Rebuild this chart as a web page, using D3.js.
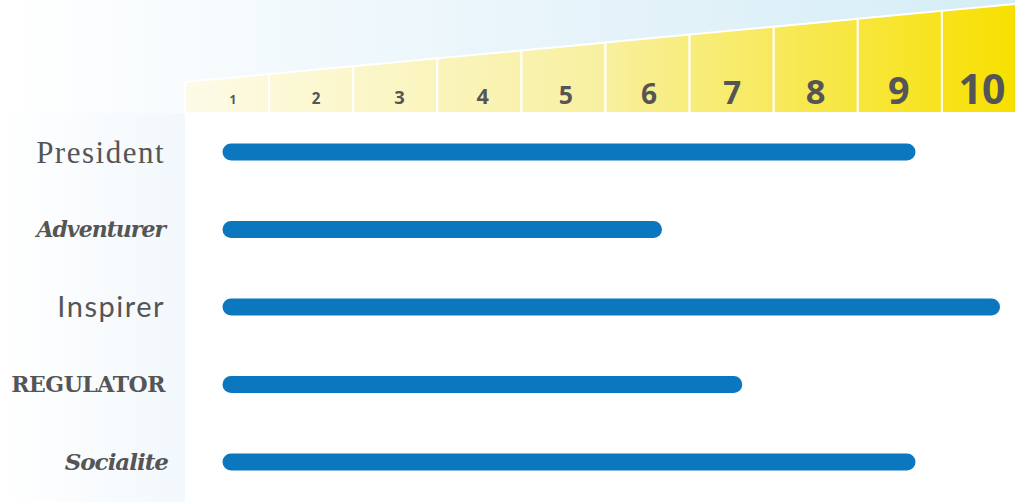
<!DOCTYPE html>
<html>
<head>
<meta charset="utf-8">
<script src="https://cdn.jsdelivr.net/npm/d3@7"></script>
<style>
  html, body { margin: 0; padding: 0; background: #fff; }
  svg { display: block; }
</style>
</head>
<body>
<div id="chart"></div>
<script>
// data
const categories = ["President", "Adventurer", "Inspirer", "Regulator", "Socialite"];
const scores = [9, 6, 10, 6.95, 9];
const tickLabels = [1, 2, 3, 4, 5, 6, 7, 8, 9, 10];

const width = 1015, height = 502;
const headerBottom = 113, plotLeft = 185;

const svg = d3.select("#chart").append("svg")
    .attr("width", width)
    .attr("height", height);

const defs = svg.append("defs");

// background gradients
const bgGrad = defs.append("linearGradient").attr("id", "bg").attr("x1", 0).attr("x2", 1);
bgGrad.append("stop").attr("offset", 0).attr("stop-color", "#ffffff");
bgGrad.append("stop").attr("offset", 0.5).attr("stop-color", "#e9f5fb");
bgGrad.append("stop").attr("offset", 1).attr("stop-color", "#d5edf5");

const leftGrad = defs.append("linearGradient").attr("id", "leftbg").attr("x1", 0).attr("x2", 1);
leftGrad.append("stop").attr("offset", 0).attr("stop-color", "#ffffff");
leftGrad.append("stop").attr("offset", 1).attr("stop-color", "#f2f8fc");

const bandGrad = defs.append("linearGradient").attr("id", "band")
    .attr("gradientUnits", "userSpaceOnUse")
    .attr("x1", plotLeft).attr("x2", width).attr("y1", 0).attr("y2", 0);
bandGrad.append("stop").attr("offset", 0).attr("stop-color", "#fdfbe8");
bandGrad.append("stop").attr("offset", 0.5).attr("stop-color", "#f8f0a0");
bandGrad.append("stop").attr("offset", 1).attr("stop-color", "#f7e000");

svg.append("rect").attr("width", width).attr("height", headerBottom).attr("fill", "url(#bg)");
svg.append("rect").attr("y", headerBottom).attr("width", plotLeft).attr("height", height - headerBottom)
    .attr("fill", "url(#leftbg)");
svg.append("rect").attr("x", plotLeft).attr("y", headerBottom)
    .attr("width", width - plotLeft).attr("height", height - headerBottom).attr("fill", "#fff");

// scales
const cols = d3.scaleBand().domain(tickLabels).range([plotLeft, 1026]);
const labelX = d3.scalePoint().domain(tickLabels).range([233, 982]);
const x = d3.scaleLinear().domain([1, 10]).range([231, 991.5]);
const y = d3.scalePoint().domain(categories).range([152, 462]);
const topEdge = d3.scaleLinear().domain([185, 1015]).range([82, 4]);
const tickSize = d3.scaleLinear().domain([1, 10]).range([12, 41]);

// header band (slanted top)
const band = svg.append("g").attr("class", "header");
band.selectAll("path.cell")
    .data(tickLabels)
    .enter().append("path")
    .attr("class", "cell")
    .attr("d", d => {
        const x0 = cols(d), x1 = cols(d) + cols.bandwidth();
        return `M${x0},${headerBottom}L${x0},${topEdge(x0)}L${x1},${topEdge(x1)}L${x1},${headerBottom}Z`;
    })
    .attr("fill", "url(#band)")
    .attr("stroke", "#fff")
    .attr("stroke-width", 2);

band.selectAll("text")
    .data(tickLabels)
    .enter().append("text")
    .attr("x", d => labelX(d))
    .attr("y", 104)
    .attr("text-anchor", "middle")
    .style("font-family", "'Open Sans', sans-serif")
    .style("font-weight", 700)
    .style("font-size", d => tickSize(d) + "px")
    .style("fill", "#555")
    .text(d => d);

// bars
svg.selectAll("line.bar")
    .data(categories)
    .enter().append("line")
    .attr("class", "bar")
    .attr("x1", x(1))
    .attr("x2", (d, i) => x(scores[i]))
    .attr("y1", d => y(d))
    .attr("y2", d => y(d))
    .attr("stroke", "#0a77bf")
    .attr("stroke-width", 17)
    .attr("stroke-linecap", "round");

// category labels, each in its own typeface
const labelStyle = {
    President: {family: "'Liberation Serif', serif", weight: 400, style: "normal", size: 31, spacing: "1.5px"},
    Adventurer: {family: "'DejaVu Serif', serif", weight: 700, style: "italic", size: 22, spacing: "-1px"},
    Inspirer: {family: "Lato, sans-serif", weight: 400, style: "normal", size: 29, spacing: "1.5px"},
    Regulator: {family: "'DejaVu Serif', serif", weight: 700, style: "normal", size: 22, spacing: "-0.5px"},
    Socialite: {family: "'DejaVu Serif', serif", weight: 700, style: "italic", size: 23, spacing: "-1px"}
};

svg.selectAll("text.cat")
    .data(categories)
    .enter().append("text")
    .attr("class", "cat")
    .attr("x", d => d === "Socialite" ? 168 : 165)
    .attr("y", d => y(d))
    .attr("dy", "0.35em")
    .attr("text-anchor", "end")
    .style("font-family", d => labelStyle[d].family)
    .style("font-weight", d => labelStyle[d].weight)
    .style("font-style", d => labelStyle[d].style)
    .style("font-size", d => labelStyle[d].size + "px")
    .style("letter-spacing", d => labelStyle[d].spacing)
    .style("fill", "#555")
    .text(d => d === "Regulator" ? d.toUpperCase() : d);
</script>
</body>
</html>
